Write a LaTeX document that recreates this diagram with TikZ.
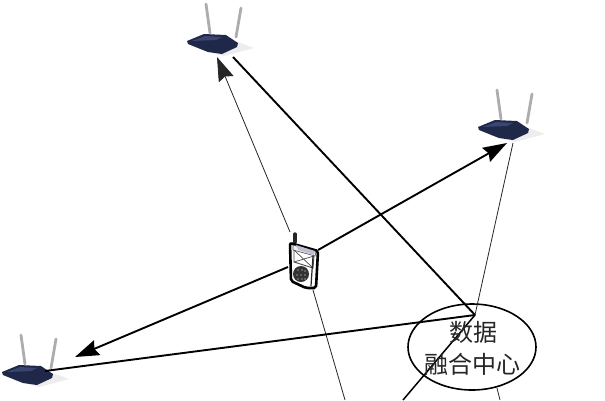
\documentclass[tikz,border=0pt]{standalone}
\usepackage{fontspec}
\newfontfamily\cjk{Noto Sans CJK SC}
\usetikzlibrary{arrows.meta,shapes.geometric}
\definecolor{navy}{HTML}{20284A}
\definecolor{navyl}{HTML}{3A4670}
\tikzset{
  thickline/.style={line width=1.9pt,black},
  thinline/.style={line width=0.8pt,black!85},
  headb/.style={-{Stealth[length=24pt,width=16pt,inset=3pt]}},
  center/.style={ellipse,draw=black,line width=1.6pt,minimum width=128pt,minimum height=86pt,inner sep=0pt,fill=none},
  cjklabel/.style={font=\cjk\fontsize{24}{27}\selectfont,text=black!85,inner sep=0pt},
  antenna/.style={line width=2.8pt,draw=black!32,line cap=round},
  router/.pic={
    \fill[black!7] (-14,6) -- (12,13) -- (42,5) -- (26,-1) -- cycle;
    \draw[antenna] (-6,-39) -- (-2,-10);
    \draw[antenna] (29,-35) -- (24,-6);
    \fill[navy] (-25,-2) -- (-8,-9) -- (14,-8) -- (26,0) -- (25,4) -- (10,11) -- (-4,9) -- (-24,1) -- cycle;
    \fill[navyl] (-20,-2) -- (-7,-7) -- (10,-6) -- (4,-3) -- cycle;
  }
}
\begin{document}
\begin{tikzpicture}[x=1pt,y=-1pt]
\useasboundingbox (0,0) rectangle (605,400);
\fill[white] (0,0) rectangle (605,400);
% routers
\pic at (212,43) {router};
\pic at (503,129) {router};
\pic at (27,374) {router};
% anchors
\coordinate (rtop) at (217,57);
\coordinate (rtopb) at (233,57);
\coordinate (rright) at (507,143);
\coordinate (rrightb) at (513,143);
\coordinate (rleft) at (75,357);
\coordinate (rleftb) at (45,371);
\coordinate (hub) at (475,315);
\coordinate (phonel) at (288,267);
\coordinate (phoner) at (318,250);
\coordinate (phonetop) at (290,232);
\coordinate (phonebot) at (313,290);
\coordinate (botA) at (345,400);
\coordinate (botB) at (403,400);
\coordinate (botC) at (500,400);
\coordinate (ellB) at (497,388);
% ellipse
\node[center] (dfc) at (472,347) {};
% connectors
\draw[thinline,headb] (phonetop) -- (rtop);
\draw[thinline] (phonebot) -- (botA);
\draw[thickline] (rtopb) -- (hub);
\draw[thickline,headb] (phonel) -- (rleft);
\draw[thickline,headb] (phoner) -- (rright);
\draw[thickline] (rleftb) -- (hub);
\draw[thinline] (rrightb) -- (hub);
\draw[line width=1.5pt,black] (hub) -- (botB);
\draw[thinline] (ellB) -- (botC);
% phone
\begin{scope}
\draw[line width=3.4pt,black!85,line cap=round] (295,234) -- (295,242);
\draw[line width=2.6pt,black,fill=white,rounded corners=2pt] (290,243) -- (318,251) -- (316,288) -- (306,288) -- (291,281) -- cycle;
\fill[black!5,draw=black!70,line width=.6pt] (293,245) -- (316,252) -- (315,256) -- (293,250) -- cycle;
\fill[blue!30!black!25] (296,245) -- (315,251) -- (314,255) -- (298,250) -- cycle;
\draw[black!70,line width=.9pt] (294,250) -- (294,262) -- (313,268) -- (314,256);
\draw[black!70,line width=.7pt] (294,250) -- (313,268) (314,256) -- (294,262);
\fill[black!80] (301,274) circle[radius=8pt];
\foreach \a/\b in {298/270,302/270,305/271,297/275,301/275,305/275,298/279,302/279,305/279}
  \fill[white] (\a,\b) circle[radius=.7pt];
\draw[black!85,line width=1.2pt] (313,256) -- (311,286);
\end{scope}
% labels
\node[cjklabel] (l1) at (473,332) {数据};
\node[cjklabel] (l2) at (472,364) {融合中心};
\end{tikzpicture}
\end{document}
